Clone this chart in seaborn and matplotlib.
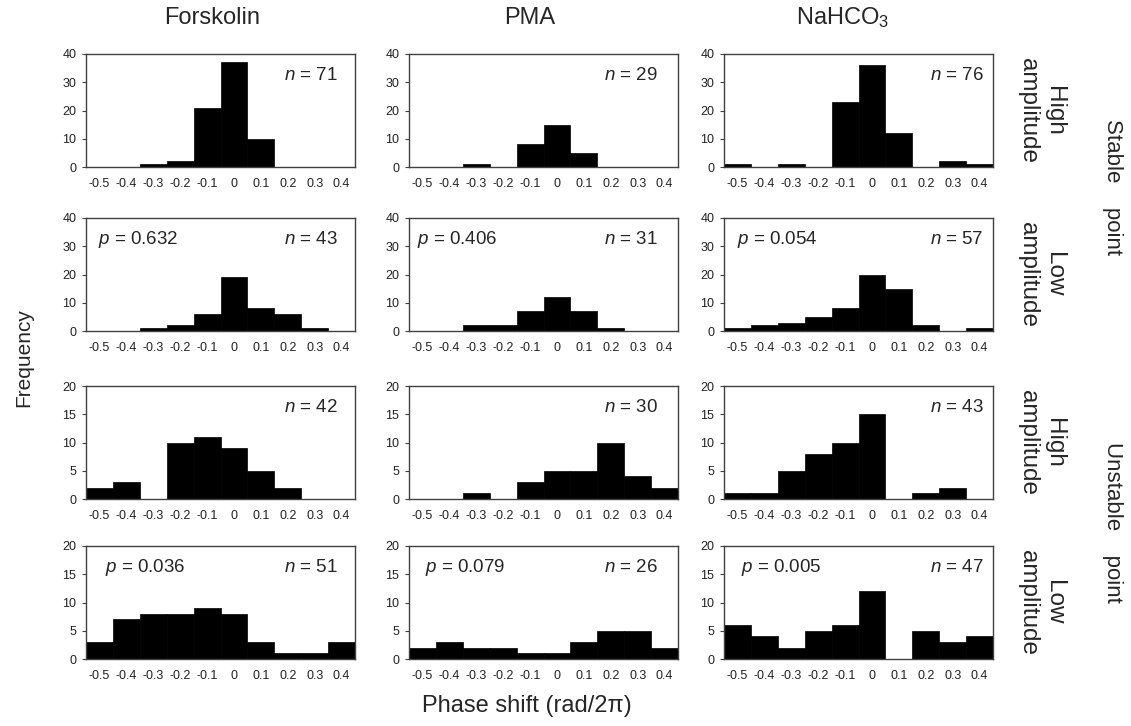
import numpy as np
import pandas as pd
import matplotlib
matplotlib.use("Agg")
import matplotlib.pyplot as plt
import seaborn as sns

# data: counts per bin, bins centred on -0.5 ... 0.4 (width 0.1)
bin_centers = [-0.5, -0.4, -0.3, -0.2, -0.1, 0.0, 0.1, 0.2, 0.3, 0.4]
tick_labels = ["-0.5", "-0.4", "-0.3", "-0.2", "-0.1", "0", "0.1", "0.2", "0.3", "0.4"]

treatments = ["Forskolin", "PMA", "NaHCO$_3$"]

# stable point, high amplitude
stable_high_forskolin = [0, 0, 1, 2, 21, 37, 10, 0, 0, 0]
stable_high_pma = [0, 0, 1, 0, 8, 15, 5, 0, 0, 0]
stable_high_nahco3 = [1, 0, 1, 0, 23, 36, 12, 0, 2, 1]

# stable point, low amplitude
stable_low_forskolin = [0, 0, 1, 2, 6, 19, 8, 6, 1, 0]
stable_low_pma = [0, 0, 2, 2, 7, 12, 7, 1, 0, 0]
stable_low_nahco3 = [1, 2, 3, 5, 8, 20, 15, 2, 0, 1]

# unstable point, high amplitude
unstable_high_forskolin = [2, 3, 0, 10, 11, 9, 5, 2, 0, 0]
unstable_high_pma = [0, 0, 1, 0, 3, 5, 5, 10, 4, 2]
unstable_high_nahco3 = [1, 1, 5, 8, 10, 15, 0, 1, 2, 0]

# unstable point, low amplitude
unstable_low_forskolin = [3, 7, 8, 8, 9, 8, 3, 1, 1, 3]
unstable_low_pma = [2, 3, 2, 2, 1, 1, 3, 5, 5, 2]
unstable_low_nahco3 = [6, 4, 2, 5, 6, 12, 0, 5, 3, 4]

n_values = [[71, 29, 76], [43, 31, 57], [42, 30, 43], [51, 26, 47]]
p_values = [None, ["0.632", "0.406", "0.054"], None, ["0.036", "0.079", "0.005"]]
row_labels = ["High\namplitude", "Low\namplitude", "High\namplitude", "Low\namplitude"]
group_labels = ["Stable    point", "Unstable    point"]
y_max = [40, 40, 20, 20]
y_step = [10, 10, 5, 5]

counts = [
    [stable_high_forskolin, stable_high_pma, stable_high_nahco3],
    [stable_low_forskolin, stable_low_pma, stable_low_nahco3],
    [unstable_high_forskolin, unstable_high_pma, unstable_high_nahco3],
    [unstable_low_forskolin, unstable_low_pma, unstable_low_nahco3],
]

sns.set_style("white")
plt.rcParams["font.family"] = ["Liberation Sans", "DejaVu Sans"]
plt.rcParams["mathtext.fontset"] = "custom"
plt.rcParams["mathtext.rm"] = "Liberation Sans"
plt.rcParams["mathtext.it"] = "Liberation Sans:italic"

W, H = 1131, 726
fig = plt.figure(figsize=(W / 100, H / 100), dpi=100)

col_left = [86, 409, 724]
col_width = 269
row_top = [54, 218, 386, 546]
row_height = 113
title_x = [212, 530, 843]
n_right = [0.935, 0.925, 0.965]
p_left = [[0.045, 0.03, 0.05], [0.07, 0.06, 0.065]]

edges = [round(-0.55 + 0.1 * i, 2) for i in range(11)]

for r in range(4):
    for c in range(3):
        ax = fig.add_axes([col_left[c] / W, 1 - (row_top[r] + row_height) / H,
                           col_width / W, row_height / H])
        df = pd.DataFrame({"x": bin_centers, "count": counts[r][c]})
        sns.histplot(data=df, x="x", weights="count", bins=edges, color="black",
                     edgecolor="black", linewidth=0.5, alpha=1, ax=ax)
        ax.set_xlim(-0.55, 0.45)
        ax.set_ylim(0, y_max[r])
        ax.set_yticks(np.arange(0, y_max[r] + 1, y_step[r]))
        ax.set_xticks(bin_centers)
        ax.set_xticklabels(tick_labels)
        ax.tick_params(axis="x", length=0, labelsize=9, pad=8, labelcolor="#222222")
        ax.tick_params(axis="y", length=3, width=0.8, direction="out", labelsize=9,
                       left=True, pad=4, labelcolor="#222222", color="#404040")
        ax.set_xlabel("")
        ax.set_ylabel("")
        for s in ax.spines.values():
            s.set_visible(True)
            s.set_color("#404040")
            s.set_linewidth(1.0)
        ax.text(n_right[c], 0.81, "$n$ = %d" % n_values[r][c], transform=ax.transAxes,
                ha="right", va="center", fontsize=13.5)
        if p_values[r] is not None:
            ax.text(p_left[r // 2][c], 0.81, "$p$ = " + p_values[r][c],
                    transform=ax.transAxes, ha="left", va="center", fontsize=13.5)
        if c == 2:
            fig.text(1041 / W, 1 - (row_top[r] + row_height / 2) / H, row_labels[r],
                     rotation=270, ha="center", va="center", fontsize=17.5,
                     linespacing=1.2)

for c in range(3):
    fig.text(title_x[c] / W, 1 - 18 / H, treatments[c], ha="center", va="center",
             fontsize=17)

# group labels on the far right
fig.text(1112 / W, 1 - 187 / H, group_labels[0], rotation=270, ha="center",
         va="center", fontsize=16)
fig.text(1112 / W, 1 - 522 / H, group_labels[1], rotation=270, ha="center",
         va="center", fontsize=16)

fig.text(24 / W, 1 - 358 / H, "Frequency", rotation=90, ha="center", va="center",
         fontsize=15)
fig.text(527 / W, 1 - 706 / H, "Phase shift (rad/2π)", ha="center", va="center",
         fontsize=17)

fig.savefig("out.png", dpi=100)
